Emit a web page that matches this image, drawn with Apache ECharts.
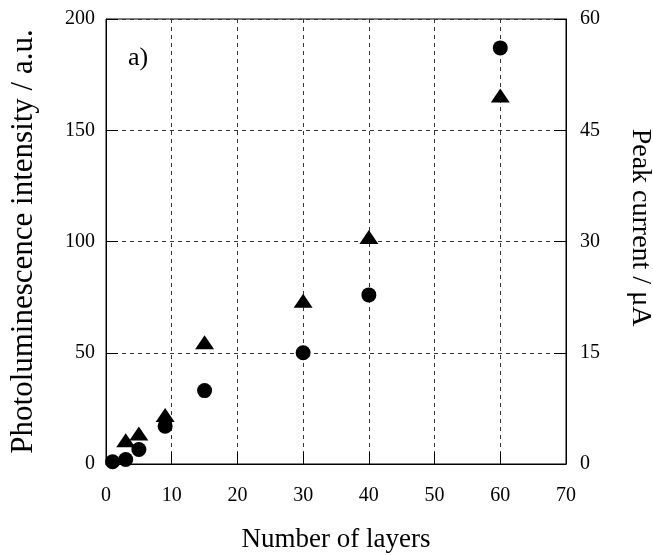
<!DOCTYPE html>
<html>
<head>
<meta charset="utf-8">
<script src="https://cdn.jsdelivr.net/npm/echarts@6/dist/echarts.min.js"></script>
<style>
  html, body { margin: 0; padding: 0; background: #fff; }
  #chart { width: 653px; height: 555px; }
</style>
</head>
<body>
<div id="chart"></div>
<script>
// data
const layers = [1, 3, 5, 9, 15, 30, 40, 60];
const plIntensity = [1, 2, 6.5, 17, 33, 50, 76, 187];
const triLayers = [3, 5, 9, 15, 30, 40, 60];
const peakCurrent = [3.2, 4.1, 6.6, 16.4, 22, 30.6, 49.7];

const font = "Liberation Serif";
const chart = echarts.init(document.getElementById("chart"));

const dashed = { show: true, lineStyle: { color: "#333", type: [4, 4], width: 1 } };
const tick = { show: true, inside: true, length: 12, lineStyle: { color: "#000" } };

chart.setOption({
  animation: false,
  backgroundColor: "#fff",
  grid: {
    left: 106, right: 87, top: 19, bottom: 91,
    outerBoundsMode: "none",
    show: true, borderColor: "#000", borderWidth: 1
  },
  graphic: [{
    type: "text", left: 128, top: 45,
    style: { text: "a)", font: "26px " + font, fill: "#000" }
  }],
  xAxis: {
    type: "value", min: 0, max: 70, interval: 10,
    name: "Number of layers", nameLocation: "middle", nameGap: 62,
    nameTextStyle: { fontFamily: font, fontSize: 27, color: "#000" },
    axisLine: { show: true, onZero: false, lineStyle: { color: "#000" } },
    axisTick: tick,
    axisLabel: { fontFamily: font, fontSize: 20, color: "#000", margin: 22 },
    splitLine: dashed
  },
  yAxis: [{
    type: "value", min: 0, max: 200, interval: 50,
    name: "Photoluminescence intensity / a.u.", nameLocation: "middle", nameGap: 67,
    nameTextStyle: { fontFamily: font, fontSize: 31, color: "#000" },
    axisLine: { show: true, lineStyle: { color: "#000" } },
    axisTick: tick,
    axisLabel: { fontFamily: font, fontSize: 20, color: "#000", margin: 11 },
    splitLine: dashed
  }, {
    type: "value", min: 0, max: 60, interval: 15, position: "right",
    name: "Peak current / μA", nameLocation: "middle", nameGap: 60, nameRotate: -90,
    nameTextStyle: { fontFamily: font, fontSize: 28, color: "#000", padding: [0, 28, 0, 0] },
    axisLine: { show: true, lineStyle: { color: "#000" } },
    axisTick: tick,
    axisLabel: { fontFamily: font, fontSize: 20, color: "#000", margin: 14 },
    splitLine: { show: false }
  }],
  series: [{
    name: "PL", type: "scatter", yAxisIndex: 0,
    symbol: "circle", symbolSize: 15,
    itemStyle: { color: "#000", opacity: 1 },
    data: layers.map((x, i) => [x, plIntensity[i]])
  }, {
    name: "Current", type: "scatter", yAxisIndex: 1,
    symbol: "triangle", symbolSize: [19, 14],
    itemStyle: { color: "#000", opacity: 1 },
    data: triLayers.map((x, i) => [x, peakCurrent[i]])
  }]
});
</script>
</body>
</html>
